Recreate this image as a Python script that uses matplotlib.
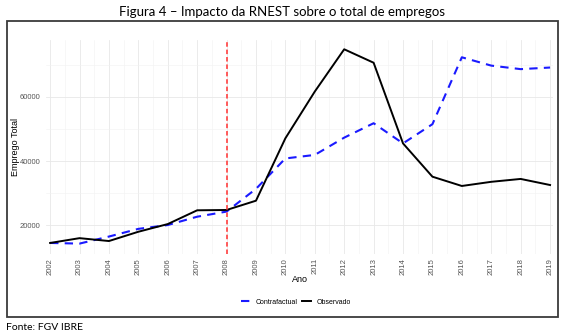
import matplotlib
matplotlib.use("Agg")
import matplotlib.pyplot as plt
from matplotlib.patches import Rectangle
from matplotlib.ticker import MultipleLocator

years = list(range(2002, 2020))
observado = [14400, 15900, 15000, 17900, 20300, 24600, 24700, 27600, 47100, 61700,
             74900, 70700, 45500, 35100, 32200, 33500, 34400, 32500]
contrafactual = [14400, 14200, 16400, 18800, 20000, 22600, 24200, 31300, 40800, 41900,
                 47300, 51800, 45500, 51500, 72400, 69800, 68700, 69200]
y_ticks = [20000, 40000, 60000]
interv_year = 2008

title = "Figura 4 – Impacto da RNEST sobre o total de empregos"
source = "Fonte: FGV IBRE"

W, H = 567, 336
fig = plt.figure(figsize=(W / 100, H / 100), dpi=100)

def fx(px):
    return px / W

def fy(py):
    return 1 - py / H

# frame around the chart
fig.patches.append(Rectangle((fx(7), fy(316.5)), fx(557.5) - fx(7), fy(21) - fy(316.5),
                             transform=fig.transFigure, fill=False,
                             edgecolor="#3a3a3a", linewidth=1.3))

ax_l, ax_r, ax_t, ax_b = 46, 553, 40, 254
ax = fig.add_axes([fx(ax_l), fy(ax_b), fx(ax_r) - fx(ax_l), fy(ax_t) - fy(ax_b)])
for s in ax.spines.values():
    s.set_visible(False)

ax.plot(years, contrafactual, color="#1a1aff", linewidth=1.5, dashes=(4, 3),
        label="Contrafactual")
ax.plot(years, observado, color="black", linewidth=1.4, label="Observado")
ax.axvline(interv_year, color="#ff4d4d", linewidth=1.3, dashes=(2.5, 1.6))

ax.set_xlim(2001.86, 2019.1)
ax.set_ylim(10950, 77800)
ax.set_xticks(years)
ax.set_xticklabels([str(y) for y in years], rotation=90, fontsize=5.5,
                   color="#555555", family="Liberation Sans")
ax.set_yticks(y_ticks)
ax.set_yticklabels([str(v) for v in y_ticks], fontsize=5.5, color="#555555",
                   family="Liberation Sans")
ax.xaxis.set_minor_locator(MultipleLocator(0.5))
ax.yaxis.set_minor_locator(MultipleLocator(10000))
ax.tick_params(which="both", length=0)
ax.tick_params(axis="x", pad=3)
ax.tick_params(axis="y", pad=4)
ax.grid(which="major", color="#e8e8e8", linewidth=0.6)
ax.grid(which="minor", color="#f2f2f2", linewidth=0.4)
ax.set_axisbelow(True)

ax.set_xlabel("Ano", fontsize=6.5, family="Liberation Sans")
ax.xaxis.set_label_coords(0.5, -(280 - ax_b) / (ax_b - ax_t), transform=ax.transAxes)
ax.xaxis.label.set_va("center")
ax.set_ylabel("Emprego Total", fontsize=6.5, family="Liberation Sans")
ax.yaxis.set_label_coords(-(ax_l - 15) / (ax_r - ax_l), 0.5, transform=ax.transAxes)
ax.yaxis.label.set_va("center")

leg = fig.legend(loc="center", bbox_to_anchor=(fx(296), fy(302)), ncol=2, frameon=False,
                 prop={"family": "Liberation Sans", "size": 5}, handlelength=1.3,
                 columnspacing=0.6, handletextpad=0.8)

fig.text(fx(282), fy(12), title, ha="center", va="center", fontsize=9.5, family="Lato")
fig.text(fx(6), fy(328), source, ha="left", va="center", fontsize=7.5, family="Lato")

fig.savefig("out.png", dpi=100)
